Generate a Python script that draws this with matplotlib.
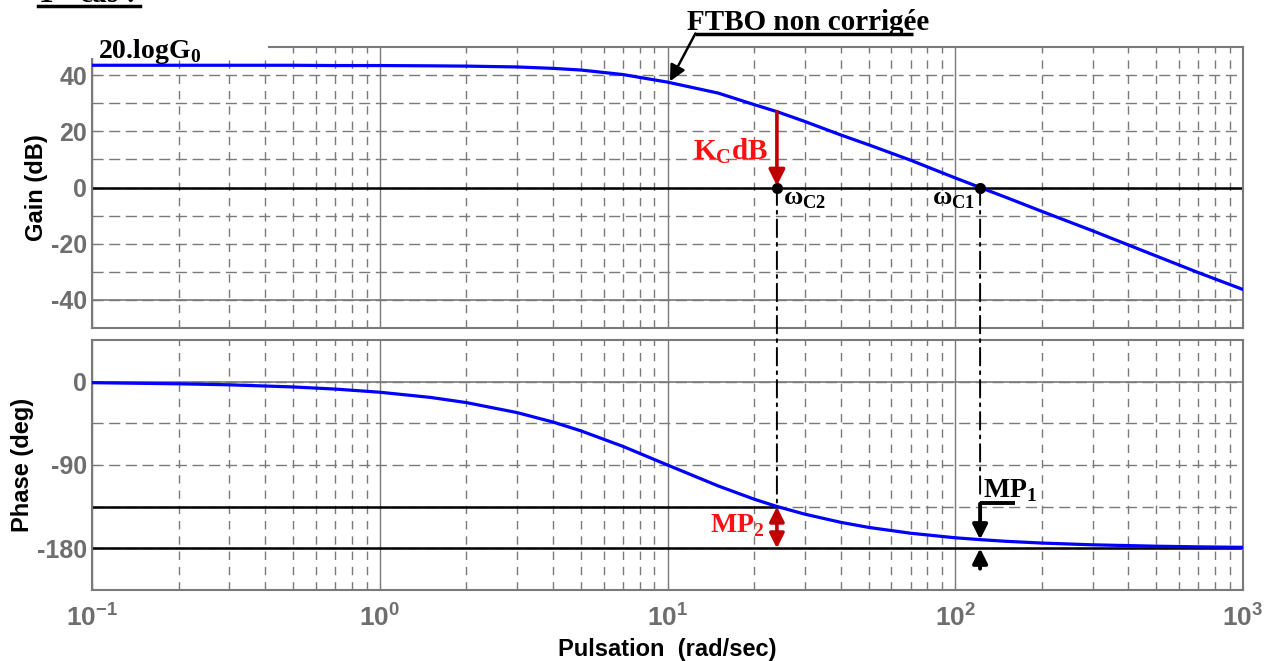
import numpy as np
import matplotlib
matplotlib.use("Agg")
import matplotlib.pyplot as plt
from matplotlib import font_manager
from matplotlib.ticker import LogLocator, NullFormatter, FixedLocator
from matplotlib.patches import ConnectionPatch, Rectangle

# valeurs lues sur le diagramme de Bode (FTBO non corrigée)
puls = [0.1, 0.2, 0.3, 0.5, 0.7, 1, 1.5, 2, 3, 4, 5, 7, 10, 15, 20, 24, 30,
        40, 50, 70, 100, 122, 150, 200, 300, 500, 700, 1000]
gain_db = [43.5, 43.5, 43.5, 43.5, 43.4, 43.4, 43.3, 43.2, 42.9, 42.4, 41.8,
           40.2, 37.5, 33.6, 29.5, 27.0, 23.5, 18.7, 15.2, 9.7, 3.4, 0.0,
           -3.5, -8.5, -15.4, -24.4, -30.3, -36.3]
phase_deg = [-1.1, -2.3, -3.4, -5.7, -8.0, -11.4, -17.0, -22.6, -33.4, -43.6,
             -53.1, -69.9, -90.0, -112.6, -126.9, -134.8, -143.1, -151.9,
             -157.4, -163.7, -168.6, -170.6, -172.4, -174.3, -176.2, -177.7,
             -178.4, -178.9]

wc2, wc1 = 24, 122
gain_wc2 = 27.0
phase_wc2, phase_wc1 = -135, -170.6

xtick_vals = [0.1, 1, 10, 100, 1000]
xtick_txt = [r"$\mathsf{10^{-1}}$", r"$\mathsf{10^{0}}$", r"$\mathsf{10^{1}}$",
             r"$\mathsf{10^{2}}$", r"$\mathsf{10^{3}}$"]
gain_ticks = [-40, -20, 0, 20, 40]
phase_ticks = [-180, -90, 0]

names = {f.name for f in font_manager.fontManager.ttflist}
SANS = "Liberation Sans Narrow" if "Liberation Sans Narrow" in names else "Liberation Sans"
SERIF = "Liberation Serif"

plt.rcParams["mathtext.fontset"] = "custom"
plt.rcParams["mathtext.rm"] = SERIF + ":bold"
plt.rcParams["mathtext.bf"] = SERIF + ":bold"
plt.rcParams["mathtext.sf"] = SANS + ":bold"

GRIS = "#7a7a7a"
GRIS_TXT = "#6e6e6e"
BLEU = "#0000ff"
ROUGE = "#ff1010"
ROUGE_F = "#c00000"

W, H = 1268, 661
fig = plt.figure(figsize=(W / 100, H / 100), dpi=100)
ax1 = fig.add_axes([92 / W, 1 - 328 / H, 1151 / W, 281 / H])
ax2 = fig.add_axes([92 / W, 1 - 590 / H, 1151 / W, 250 / H])

for ax in (ax1, ax2):
    ax.set_xscale("log")
    ax.set_xlim(0.1, 1000)
    ax.xaxis.set_major_locator(FixedLocator(xtick_vals))
    ax.xaxis.set_minor_locator(LogLocator(base=10, subs=np.arange(2, 10)))
    ax.xaxis.set_minor_formatter(NullFormatter())
    ax.grid(which="major", axis="x", color=GRIS, ls="-", lw=1)
    ax.grid(which="minor", axis="x", color=GRIS, ls=(0, (6, 5)), lw=1)
    ax.grid(which="both", axis="y", color=GRIS, ls=(0, (8, 4)), lw=1)
    ax.tick_params(which="both", direction="in", color=GRIS, labelcolor=GRIS_TXT,
                   labelsize=18)
    ax.tick_params(which="major", length=5)
    ax.tick_params(which="minor", length=4)
    for s in ax.spines.values():
        s.set_color(GRIS)
        s.set_linewidth(1.5)

# ---- gain ----
ax1.set_ylim(-50, 50)
ax1.set_yticks(gain_ticks)
ax1.set_yticks(np.arange(-40, 50, 10), minor=True)
ax1.set_yticklabels([str(v) for v in gain_ticks], fontfamily=SANS, fontweight="bold")
ax1.set_xticklabels([])
ax1.axhline(-40, color=GRIS, lw=1.2, zorder=1)
ax1.axhline(0, color="k", lw=1.8, zorder=2)
ax1.plot(puls, gain_db, color=BLEU, lw=2.3, zorder=3)
ax1.plot([wc2, wc1], [0, 0], "o", color="k", ms=7, zorder=5)
ax1.set_ylabel("Gain (dB)", fontfamily=SANS, fontweight="bold", fontsize=17,
               labelpad=2)

# cache le haut du cadre derrière 20.logG0
ax1.add_patch(Rectangle((-0.004, 0.962), 0.157, 0.07, transform=ax1.transAxes,
                        facecolor="white", edgecolor="none", clip_on=False, zorder=6))
ax1.text(0.0055, 0.962, r"20.logG$_\mathrm{0}$", transform=ax1.transAxes,
         fontfamily=SERIF, fontweight="bold", fontsize=20, color="k",
         va="baseline", ha="left", zorder=7)

# FTBO non corrigée
ax1.text(30.8, 56.2, "FTBO non corrigée", fontfamily=SERIF, fontweight="bold",
         fontsize=21, ha="center", va="baseline", clip_on=False)
ax1.plot([12.5, 71.3], [54.8, 54.8], color="k", lw=2.5, clip_on=False,
         solid_capstyle="butt")
ax1.annotate("", xy=(10.2, 37.8), xytext=(12.5, 54.8), annotation_clip=False,
             arrowprops=dict(arrowstyle="-|>", color="k", lw=1.8,
                             mutation_scale=24, shrinkA=0, shrinkB=0))

# KC dB
ax1.annotate("", xy=(wc2, 0.6), xytext=(wc2, gain_wc2),
             arrowprops=dict(arrowstyle="-|>", color=ROUGE_F, lw=2.6,
                             mutation_scale=24, shrinkA=0, shrinkB=0))
ax1.text(22.4, 10.0, r"K$_\mathrm{C}$dB", color=ROUGE, fontfamily=SERIF,
         fontweight="bold", fontsize=21, ha="right", va="baseline")
ax1.text(25.3, -5.9, r"ω$_\mathrm{C2}$", fontfamily=SERIF, fontweight="bold",
         fontsize=19, ha="left", va="baseline")
ax1.text(83, -5.9, r"ω$_\mathrm{C1}$", fontfamily=SERIF, fontweight="bold",
         fontsize=19, ha="left", va="baseline")

# ---- phase ----
ax2.set_ylim(-225, 45)
ax2.set_yticks(phase_ticks)
ax2.set_yticks(np.arange(-180, 45, 45), minor=True)
ax2.set_yticklabels([str(v) for v in phase_ticks], fontfamily=SANS, fontweight="bold")
ax2.set_xticklabels(xtick_txt)
ax2.tick_params(axis="x", pad=11, labelsize=19)
ax2.axhline(0, color=GRIS, lw=1.2, zorder=1)
ax2.axhline(-180, color="k", lw=1.8, zorder=2)
ax2.plot([0.1, wc2], [phase_wc2, phase_wc2], color="k", lw=1.8, zorder=2)
ax2.plot(puls, phase_deg, color=BLEU, lw=2.3, zorder=3)
ax2.set_ylabel("Phase (deg)", fontfamily=SANS, fontweight="bold", fontsize=17,
               labelpad=2)
ax2.set_xlabel("Pulsation  (rad/sec)", fontfamily=SANS, fontweight="bold",
               fontsize=17, labelpad=4)

# MP2
ax2.annotate("", xy=(wc2, -180), xytext=(wc2, phase_wc2),
             arrowprops=dict(arrowstyle="<|-|>", color=ROUGE_F, lw=2.6,
                             mutation_scale=22, shrinkA=0, shrinkB=0))
ax2.text(21.8, -162.3, r"MP$_\mathrm{2}$", color=ROUGE, fontfamily=SERIF,
         fontweight="bold", fontsize=20, ha="right", va="baseline")

# MP1
ax2.plot([wc1, 161], [-131, -131], color="k", lw=2.8, solid_capstyle="butt")
ax2.annotate("", xy=(wc1, phase_wc1), xytext=(wc1, -131.8),
             arrowprops=dict(arrowstyle="-|>", color="k", lw=2.8,
                             mutation_scale=22, shrinkA=0, shrinkB=0))
ax2.annotate("", xy=(wc1, -180), xytext=(wc1, -202),
             arrowprops=dict(arrowstyle="-|>", color="k", lw=2.8,
                             mutation_scale=22, shrinkA=0, shrinkB=0))
ax2.text(125, -124.5, r"MP$_\mathrm{1}$", color="k", fontfamily=SERIF,
         fontweight="bold", fontsize=20, ha="left", va="baseline")

# traits mixtes entre gain et phase
for xa, yb in [(wc2, phase_wc2), (wc1, -126)]:
    con = ConnectionPatch(xyA=(xa, 0), coordsA=ax1.transData, xyB=(xa, yb),
                          coordsB=ax2.transData, color="k", lw=1.4,
                          ls=(0, (9, 3, 1.5, 3)), zorder=4)
    fig.add_artist(con)

# titre coupé en haut (comme sur l'original)
fig.text(38 / W, 1 - 3 / H, r"1$^{\mathrm{er}}$ cas :", fontfamily=SERIF,
         fontweight="bold", fontsize=21, va="baseline", ha="left")
fig.add_artist(plt.Line2D([38 / W, 140 / W], [1 - 6 / H, 1 - 6 / H],
                          color="k", lw=2.5, transform=fig.transFigure))

fig.savefig("out.png", dpi=100)
